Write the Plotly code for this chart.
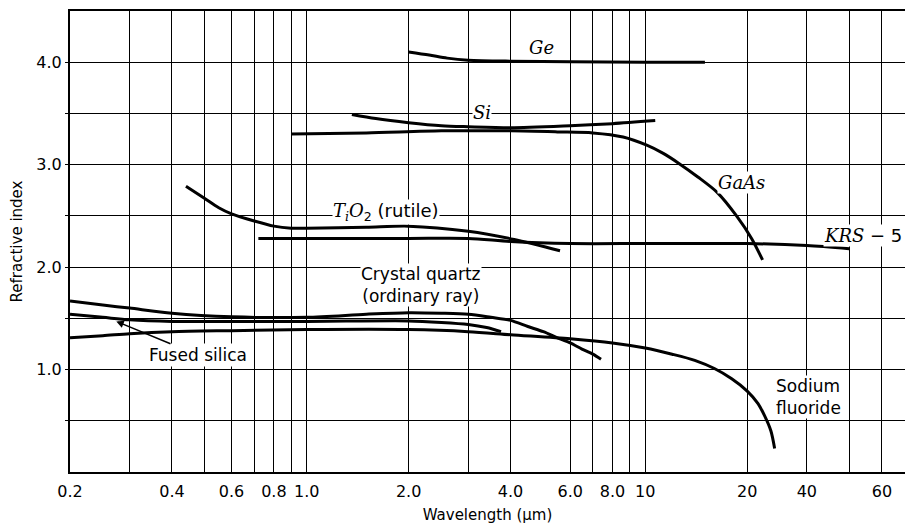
import math
import plotly.graph_objects as go

# wavelength (um) / refractive index
ge_wl = [2.0, 2.3, 2.6, 3.0, 4.0, 6.0, 10.0, 15.0]
ge_n = [4.10, 4.07, 4.04, 4.02, 4.01, 4.005, 4.0, 4.0]

si_wl = [1.36, 1.6, 2.0, 2.5, 3.0, 4.0, 6.0, 8.0, 10.7]
si_n = [3.49, 3.45, 3.41, 3.38, 3.37, 3.36, 3.38, 3.40, 3.43]

gaas_wl = [0.9, 1.5, 2.5, 4.0, 5.5, 7.0, 8.6, 10.1, 11.3, 12.6, 14.3, 16.3, 18.6, 20.6, 22.2]
gaas_n = [3.30, 3.31, 3.33, 3.33, 3.32, 3.31, 3.27, 3.19, 3.11, 3.01, 2.88, 2.73, 2.50, 2.28, 2.07]

tio2_wl = [0.44, 0.5, 0.55, 0.6, 0.7, 0.8, 0.9, 1.0, 1.5, 2.0, 3.0, 4.1, 5.6]
tio2_n = [2.79, 2.67, 2.58, 2.52, 2.45, 2.40, 2.38, 2.38, 2.39, 2.40, 2.35, 2.27, 2.16]

krs_wl = [0.72, 1.0, 2.0, 3.0, 4.0, 6.0, 10.0, 20.0, 30.0, 40.0]
krs_n = [2.28, 2.28, 2.28, 2.28, 2.25, 2.23, 2.23, 2.23, 2.21, 2.18]

quartz_wl = [0.2, 0.25, 0.3, 0.4, 0.6, 1.0, 1.5, 2.0, 2.5, 3.0, 3.5, 4.0, 4.5, 5.0, 5.5, 6.0, 6.5, 7.0, 7.4]
quartz_n = [1.67, 1.63, 1.60, 1.55, 1.515, 1.51, 1.54, 1.555, 1.55, 1.54, 1.51, 1.48, 1.42, 1.37, 1.31, 1.26, 1.20, 1.15, 1.10]

silica_wl = [0.2, 0.25, 0.3, 0.4, 1.0, 2.0, 2.5, 3.0, 3.4, 3.75]
silica_n = [1.54, 1.51, 1.485, 1.47, 1.47, 1.475, 1.46, 1.44, 1.41, 1.37]

naf_wl = [0.2, 0.25, 0.3, 0.4, 0.6, 1.0, 2.0, 3.0, 4.0, 6.0, 8.0, 10.0, 12.0, 14.0, 16.0, 18.0, 20.0, 21.5, 22.5, 23.5, 24.1]
naf_n = [1.31, 1.33, 1.35, 1.37, 1.38, 1.39, 1.39, 1.37, 1.34, 1.30, 1.26, 1.21, 1.15, 1.09, 1.01, 0.91, 0.79, 0.67, 0.55, 0.40, 0.23]

# labelled ticks as printed on the original axis (its last two labels sit on the 30 and 50 lines)
x_ticks = [0.2, 0.4, 0.6, 0.8, 1, 2, 4, 6, 8, 10, 20, 30, 50]
x_labels = ["0.2", "0.4", "0.6", "0.8", "1.0", "2.0", "4.0", "6.0", "8.0", "10", "20", "40", "60"]
x_minor = [0.3, 0.5, 0.7, 0.9, 3, 7, 9, 40]
y_ticks = [1.0, 2.0, 3.0, 4.0]
y_labels = ["1.0", "2.0", "3.0", "4.0"]
y_minor = [0.5, 1.5, 2.5, 3.5]

SANS = "DejaVu Sans"
SERIF = "DejaVu Serif"

fig = go.Figure()
for wl, n in [(ge_wl, ge_n), (si_wl, si_n), (gaas_wl, gaas_n), (tio2_wl, tio2_n),
              (krs_wl, krs_n), (quartz_wl, quartz_n), (silica_wl, silica_n), (naf_wl, naf_n)]:
    fig.add_trace(go.Scatter(x=wl, y=n, mode="lines", line=dict(color="black", width=3, shape="spline", smoothing=0.8),
                             showlegend=False, hoverinfo="skip"))


def label(text, x, y, size=18, family=SERIF, **kw):
    fig.add_annotation(x=math.log10(x), y=y, text=text, showarrow=False, bgcolor="white",
                       font=dict(family=family, size=size, color="black"), borderpad=0, **kw)


label("<i>Ge</i>", 4.95, 4.14)
label("<i>Si</i>", 3.29, 3.51)
label("<i>GaAs</i>", 19.2, 2.83)
label("<i>KRS</i><span style='font-family:DejaVu Sans'> − 5</span>", 33.5, 2.31, xanchor="left")
label("<i>T<sub>i</sub>O</i><span style='font-family:DejaVu Sans'><sub>2</sub> (rutile)</span>", 1.72, 2.54)
label("Crystal quartz<br>(ordinary ray)", 2.17, 1.83, size=17, family=SANS)
label("Sodium<br>fluoride", 24.1, 0.73, size=17, family=SANS, xanchor="left", align="left")

fig.add_annotation(x=math.log10(0.274), y=1.47, ax=math.log10(0.479), ay=1.14, axref="x", ayref="y",
                   text="Fused silica", showarrow=True, arrowhead=2, arrowsize=1, arrowwidth=1.5,
                   arrowcolor="black", bgcolor="white", font=dict(family=SANS, size=17, color="black"))

grid = dict(showgrid=True, gridcolor="black", gridwidth=1)
fig.update_xaxes(type="log", range=[math.log10(0.2), 1.767], tickvals=x_ticks, ticktext=x_labels,
                 minor=dict(tickvals=x_minor, gridcolor="black", gridwidth=1, showgrid=True, ticks=""),
                 showline=True, linecolor="black", linewidth=2, mirror=True, ticks="",
                 ticklabelstandoff=4,
                 tickfont=dict(family=SANS, size=16, color="black"), automargin=False,
                 title=dict(text="Wavelength (μm)", font=dict(family=SANS, size=15, color="black"), standoff=12),
                 zeroline=False, **grid)
fig.update_yaxes(range=[0, 4.5], tickvals=y_ticks, ticktext=y_labels,
                 minor=dict(tickvals=y_minor, gridcolor="black", gridwidth=1, showgrid=True,
                            ticks="outside", ticklen=3, tickcolor="black"),
                 showline=True, linecolor="black", linewidth=2, ticks="outside", ticklen=3,
                 tickcolor="black", tickfont=dict(family=SANS, size=16, color="black"), automargin=False,
                 title=dict(text="Refractive index", font=dict(family=SANS, size=15, color="black"), standoff=10),
                 zeroline=False, **grid)

fig.update_layout(width=905, height=524, margin=dict(l=70, r=0, t=11, b=52),
                  plot_bgcolor="white", paper_bgcolor="white")

# page has a default 8px body margin; drop it so the figure fills the window
fig.write_html("out.html", config={"displayModeBar": False},
               post_script="document.body.style.margin='0';")
